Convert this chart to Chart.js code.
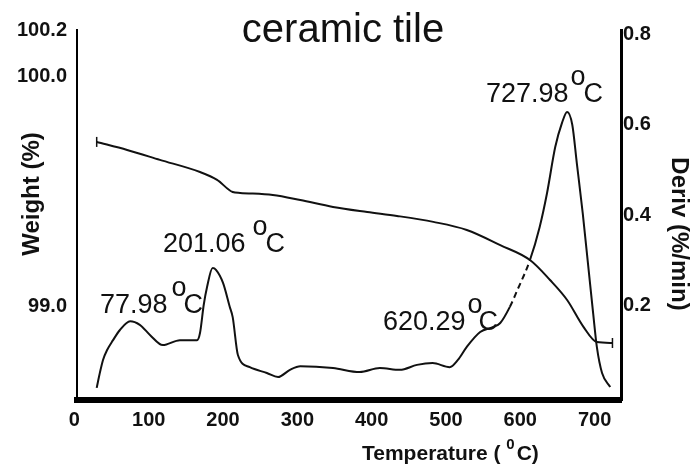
<!DOCTYPE html>
<html>
<head>
<meta charset="utf-8">
<title>ceramic tile</title>
<script src="https://cdn.jsdelivr.net/npm/chart.js@4.4.1/dist/chart.umd.min.js"></script>
<style>
  html, body { margin: 0; padding: 0; background: #fff; }
</style>
</head>
<body>
<canvas id="tga" width="690" height="468"></canvas>
<script>
// TGA curve of a ceramic tile: weight loss + derivative

// Tick labels
const tempTicks = [0, 100, 200, 300, 400, 500, 600, 700];
const weightTicks = [99.0, 100.0, 100.2];
const derivTicks = [0.2, 0.4, 0.6, 0.8];

// Weight curve (%)
const weightTemp = [30, 71, 115, 169, 192, 213, 223, 267, 304, 348, 394, 434, 483, 528, 573, 613, 640, 663, 685, 703, 724];
const weightPct = [99.716, 99.681, 99.638, 99.585, 99.551, 99.498, 99.494, 99.485, 99.463, 99.433, 99.411,
                   99.394, 99.368, 99.333, 99.267, 99.202, 99.115, 99.028, 98.911, 98.845, 98.841];

// Derivative curve (%/min)
const derivTemp = [30, 34.5, 38.5, 44, 52, 61, 75, 88, 102, 119,
                   142, 165, 169, 174, 178.5, 186, 190.5, 200, 209, 213,
                   220, 236, 259, 274, 290, 304, 348, 384, 411, 438,
                   461, 482, 505, 516, 528, 546, 563, 573, 586, 596,
                   613, 626, 636, 647, 656, 663, 670, 676, 684, 691,
                   698, 703, 710, 721];
const derivRate = [0.016, 0.051, 0.078, 0.100, 0.122, 0.144, 0.164, 0.156, 0.133, 0.111,
                   0.122, 0.122, 0.138, 0.200, 0.240, 0.282, 0.278, 0.249, 0.196, 0.173,
                   0.089, 0.062, 0.049, 0.040, 0.056, 0.064, 0.060, 0.051, 0.060, 0.056,
                   0.067, 0.071, 0.062, 0.078, 0.107, 0.140, 0.151, 0.160, 0.196, 0.233,
                   0.300, 0.373, 0.449, 0.551, 0.604, 0.629, 0.600, 0.516, 0.404, 0.293,
                   0.182, 0.107, 0.049, 0.018];

// Peak annotations
const peakLabels = ['77.98', '201.06', '620.29', '727.98'];

const FONT = '"Liberation Sans", Arial, sans-serif';
const INK = '#111';

// where the peak texts sit (pixels)
const peakSpots = [
    { x: 100, y: 313, o: 4, c: 16 },
    { x: 163, y: 252, o: 7, c: 20 },
    { x: 383, y: 330, o: 2, c: 13 },
    { x: 486, y: 102, o: 2, c: 15 }
];

const textPlugin = {
    id: 'tgaText',
    afterDraw(chart) {
        const ctx = chart.ctx;
        ctx.save();
        ctx.fillStyle = INK;
        ctx.textBaseline = 'alphabetic';

        // title
        ctx.font = '40px ' + FONT;
        ctx.textAlign = 'center';
        ctx.fillText('ceramic tile', 343, 42);

        // peak temperatures with degree sign
        ctx.textAlign = 'left';
        ctx.font = '27px ' + FONT;
        peakLabels.forEach((txt, i) => {
            const s = peakSpots[i];
            ctx.fillText(txt, s.x, s.y);
            const w = ctx.measureText(txt).width;
            ctx.fillText('o', s.x + w + s.o, s.y - 17);
            ctx.fillText('C', s.x + w + s.c, s.y);
        });

        // x title with superscript 0
        ctx.font = 'bold 21px ' + FONT;
        let x = 362;
        ctx.fillText('Temperature ( ', x, 460);
        x += ctx.measureText('Temperature ( ').width;
        ctx.font = 'bold 15px ' + FONT;
        ctx.fillText('0', x, 449);
        x += ctx.measureText('0').width + 2;
        ctx.font = 'bold 21px ' + FONT;
        ctx.fillText('C)', x, 460);

        // y titles
        ctx.font = 'bold 24px ' + FONT;
        ctx.textAlign = 'center';
        ctx.textBaseline = 'middle';
        ctx.save();
        ctx.translate(32, 194);
        ctx.rotate(-Math.PI / 2);
        ctx.fillText('Weight (%)', 0, 0);
        ctx.restore();

        ctx.save();
        ctx.translate(679, 234);
        ctx.rotate(Math.PI / 2);
        ctx.fillText('Deriv (%/min)', 0, 0);
        ctx.restore();

        ctx.restore();
    }
};

const tickFont = { family: FONT, size: 20, weight: 'bold' };
const noGrid = { display: false, drawTicks: false, tickLength: 0 };

const weightPoints = weightTemp.map((t, i) => ({ x: t, y: weightPct[i] }));
const derivPoints = derivTemp.map((t, i) => ({ x: t, y: derivRate[i] }));
const lastW = weightPoints.length - 1;

new Chart(document.getElementById('tga'), {
    type: 'line',
    data: {
        datasets: [
            {
                label: 'Weight',
                data: weightPoints,
                yAxisID: 'yW',
                borderColor: INK,
                borderWidth: 2,
                cubicInterpolationMode: 'monotone',
                pointStyle: 'line',
                rotation: 90,
                pointRadius: ctx => (ctx.dataIndex === 0 || ctx.dataIndex === lastW) ? 5 : 0,
                pointBorderColor: INK,
                pointBorderWidth: 1.5
            },
            {
                label: 'Deriv',
                data: derivPoints,
                yAxisID: 'yD',
                borderColor: INK,
                borderWidth: 2,
                cubicInterpolationMode: 'monotone',
                pointRadius: 0,
                segment: {
                    borderDash: ctx => (ctx.p0.parsed.x >= 580 && ctx.p1.parsed.x <= 614) ? [6, 4] : undefined
                }
            }
        ]
    },
    options: {
        responsive: false,
        animation: false,
        layout: { padding: { top: 30, left: 0, right: 0, bottom: 0 } },
        plugins: {
            legend: { display: false },
            title: { display: false },
            tooltip: { enabled: false }
        },
        scales: {
            x: {
                type: 'linear',
                min: 3.5,
                max: 735.5,
                grid: noGrid,
                border: { display: true, color: '#000', width: 6 },
                ticks: { font: tickFont, color: INK, padding: 8, maxRotation: 0, autoSkip: false },
                afterBuildTicks: s => { s.ticks = tempTicks.map(v => ({ value: v })); },
                afterFit: s => { s.height = 68; }
            },
            yW: {
                type: 'linear',
                position: 'left',
                min: 98.593,
                max: 100.203,
                grid: noGrid,
                border: { display: true, color: '#000', width: 2 },
                ticks: { font: tickFont, color: INK, padding: 10, callback: v => v.toFixed(1) },
                afterBuildTicks: s => { s.ticks = weightTicks.map(v => ({ value: v })); },
                afterFit: s => { s.width = 77; }
            },
            yD: {
                type: 'linear',
                position: 'right',
                min: -0.011,
                max: 0.811,
                grid: noGrid,
                border: { display: true, color: '#000', width: 3 },
                ticks: { font: tickFont, color: INK, padding: 2, callback: v => v.toFixed(1) },
                afterBuildTicks: s => { s.ticks = derivTicks.map(v => ({ value: v })); },
                afterFit: s => { s.width = 69; }
            }
        }
    },
    plugins: [textPlugin]
});
</script>
</body>
</html>
